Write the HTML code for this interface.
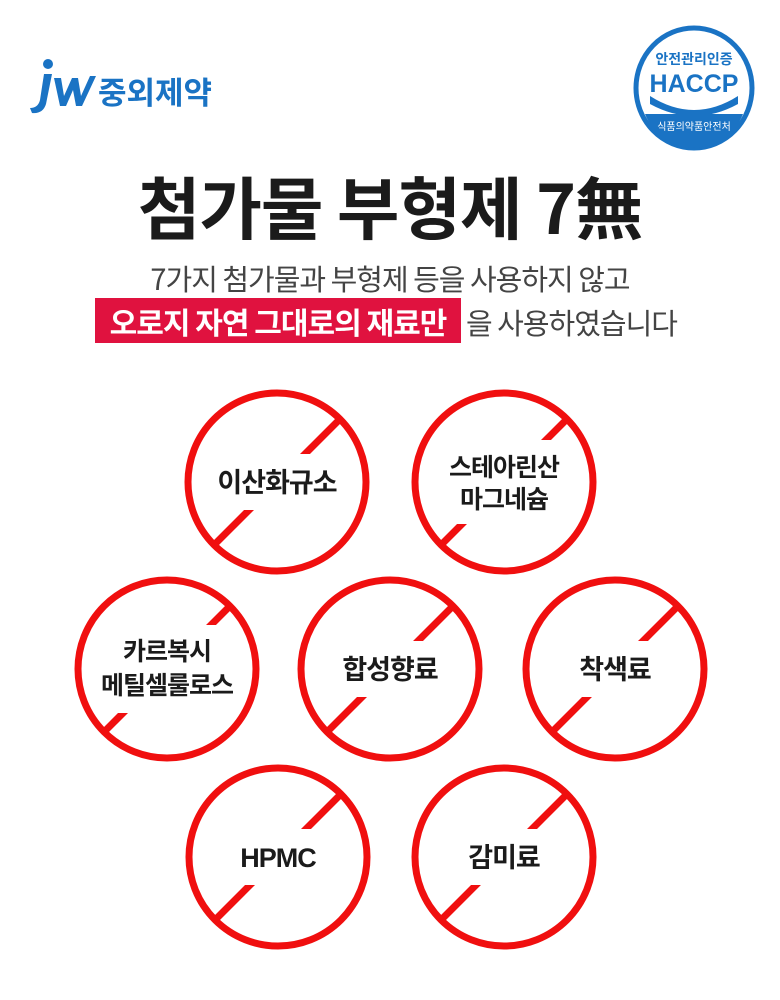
<!DOCTYPE html>
<html><head><meta charset="utf-8"><style>
html,body{margin:0;padding:0;background:#fff;}
body{width:780px;height:1000px;position:relative;overflow:hidden;font-family:"Liberation Sans","Noto Sans CJK KR",sans-serif;}
.abs{position:absolute;}
</style></head><body>
<svg class="abs" style="left:0;top:0" width="780" height="1000" viewBox="0 0 780 1000">
  <!-- logo -->
  <g fill="#1a73c4">
    <circle cx="48" cy="64" r="5"/>
    <path d="M44 74 L52 74 L46 104 Q43 114 32 113 L30 108 Q38 108 40 100 Z"/>
    <path d="M54 78 L61 78 L64 96 L72 78 L78 78 L81 96 L90 76 L96 76 L82 106 L76 106 L73 90 L66 106 L60 106 Z"/>
  </g>
  <text x="98" y="104" font-size="31" font-weight="bold" fill="#1a73c4" font-family="Noto Sans CJK KR,sans-serif">중외제약</text>
  <!-- HACCP -->
  <ellipse cx="694" cy="88" rx="58" ry="60" fill="#fff" stroke="#1a73c4" stroke-width="5"/>
  <text x="694" y="64" text-anchor="middle" font-size="14" font-weight="bold" fill="#1a73c4" font-family="Noto Sans CJK KR,sans-serif">안전관리인증</text>
  <text x="694" y="92" text-anchor="middle" font-size="25" font-weight="bold" fill="#1a73c4" font-family="Liberation Sans,sans-serif">HACCP</text>
  <path d="M650 96 Q694 124 738 96 L738 104 Q694 128 650 104 Z" fill="#1a73c4"/>
  <path d="M645 114 L743 114 Q730 146 694 148 Q658 146 645 114 Z" fill="#1a73c4"/>
  <text x="694" y="130" text-anchor="middle" font-size="10" fill="#fff" font-family="Noto Sans CJK KR,sans-serif">식품의약품안전처</text>
  <!-- title -->
  <text x="390" y="234" text-anchor="middle" font-size="68" font-weight="bold" fill="#1b1b1b" font-family="Noto Sans CJK KR,sans-serif" letter-spacing="-1">첨가물 부형제 7無</text>
  <text x="390" y="290" text-anchor="middle" font-size="29" fill="#444" font-family="Noto Sans CJK KR,sans-serif" letter-spacing="-1">7가지 첨가물과 부형제 등을 사용하지 않고</text>
  <rect x="95" y="298" width="366" height="45" fill="#e0123f"/>
  <text x="278" y="334" text-anchor="middle" font-size="30" font-weight="bold" fill="#fff" font-family="Noto Sans CJK KR,sans-serif" letter-spacing="-1">오로지 자연 그대로의 재료만</text>
  <text x="466" y="334" font-size="29" fill="#444" font-family="Noto Sans CJK KR,sans-serif" letter-spacing="-1">을 사용하였습니다</text>
  <!-- diagonals -->
  <g fill="none" stroke="#f00f0f" stroke-width="7">
    <line x1="340" y1="419" x2="214" y2="545"/>
    <line x1="567" y1="419" x2="441" y2="545"/>
    <line x1="230" y1="606" x2="104" y2="732"/>
    <line x1="453" y1="606" x2="327" y2="732"/>
    <line x1="678" y1="606" x2="552" y2="732"/>
    <line x1="341" y1="794" x2="215" y2="920"/>
    <line x1="567" y1="794" x2="441" y2="920"/>
  </g>
  <g fill="#fff">
    <rect x="207" y="454" width="140" height="56"/>
    <rect x="434" y="440" width="140" height="84"/>
    <rect x="90" y="625" width="156" height="88"/>
    <rect x="328" y="641" width="124" height="56"/>
    <rect x="568" y="641" width="94" height="56"/>
    <rect x="228" y="829" width="100" height="56"/>
    <rect x="457" y="829" width="94" height="56"/>
  </g>
  <g fill="none" stroke="#f00f0f" stroke-width="7">
    <circle cx="277" cy="482" r="89"/>
    <circle cx="504" cy="482" r="89"/>
    <circle cx="167" cy="669" r="89"/>
    <circle cx="390" cy="669" r="89"/>
    <circle cx="615" cy="669" r="89"/>
    <circle cx="278" cy="857" r="89"/>
    <circle cx="504" cy="857" r="89"/>
  </g>
  <g font-size="27" font-weight="bold" fill="#1b1b1b" text-anchor="middle" font-family="Noto Sans CJK KR,sans-serif" letter-spacing="-1">
    <text x="277" y="492">이산화규소</text>
    <text x="504" y="476" font-size="25">스테아린산</text>
    <text x="504" y="508" font-size="25">마그네슘</text>
    <text x="167" y="660" font-size="25">카르복시</text>
    <text x="167" y="694" font-size="25">메틸셀룰로스</text>
    <text x="390" y="679">합성향료</text>
    <text x="615" y="679">착색료</text>
    <text x="278" y="867" font-family="Liberation Sans,sans-serif">HPMC</text>
    <text x="504" y="867">감미료</text>
  </g>
</svg>
</body></html>
